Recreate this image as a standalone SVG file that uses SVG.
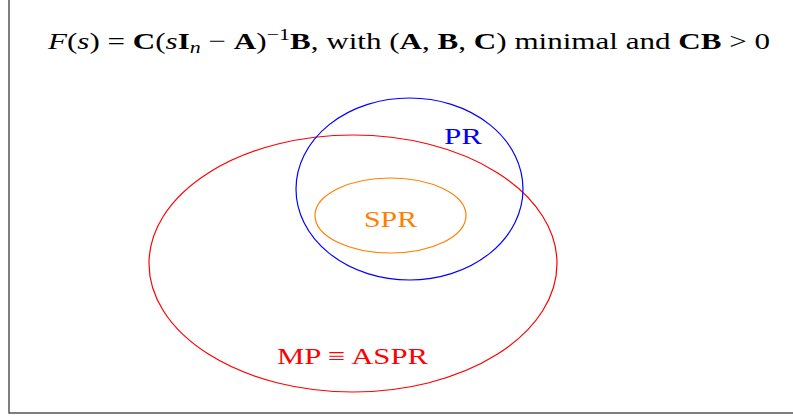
<svg xmlns="http://www.w3.org/2000/svg" width="793" height="416" viewBox="0 0 793 416">
<style>
.t{font-family:"Liberation Serif","DejaVu Serif",serif;font-size:24px;fill:#000}
.l{font-family:"Liberation Serif","DejaVu Serif",serif;font-size:24px}
.e{fill:none;stroke-width:1.2}
</style>
<rect x="0" y="0" width="793" height="416" fill="#fff"/>
<path d="M9 0 V413 H793" fill="none" stroke="#555" stroke-width="1.5"/>
<text class="t" x="48" y="49" textLength="722" lengthAdjust="spacingAndGlyphs"><tspan font-style="italic">F</tspan>(<tspan font-style="italic">s</tspan>) = <tspan font-weight="bold">C</tspan>(<tspan font-style="italic">s</tspan><tspan font-weight="bold">I</tspan><tspan font-style="italic" font-size="17" dy="4">n</tspan><tspan dy="-4"> − </tspan><tspan font-weight="bold">A</tspan>)<tspan font-size="17" dy="-9">−1</tspan><tspan font-weight="bold" dy="9">B</tspan>, with (<tspan font-weight="bold">A</tspan>, <tspan font-weight="bold">B</tspan>, <tspan font-weight="bold">C</tspan>) minimal and <tspan font-weight="bold">CB</tspan> &gt; 0</text>
<g id="mp">
<ellipse class="e" cx="353" cy="263.5" rx="204" ry="128.5" stroke="#ff0000"/>
<text class="l" x="277" y="364" textLength="151" lengthAdjust="spacingAndGlyphs" fill="#ff0000">MP ≡ ASPR</text>
</g>
<g id="pr">
<ellipse class="e" cx="409.5" cy="189" rx="113.5" ry="91" stroke="#0000ff"/>
<text class="l" x="444" y="144" textLength="38" lengthAdjust="spacingAndGlyphs" fill="#0000ff">PR</text>
</g>
<g id="spr">
<ellipse class="e" cx="390.5" cy="215.5" rx="75.5" ry="37.5" stroke="#ff8000"/>
<text class="l" x="364" y="227" textLength="53" lengthAdjust="spacingAndGlyphs" fill="#ff8000">SPR</text>
</g>
<g id="connectors"></g>
</svg>
